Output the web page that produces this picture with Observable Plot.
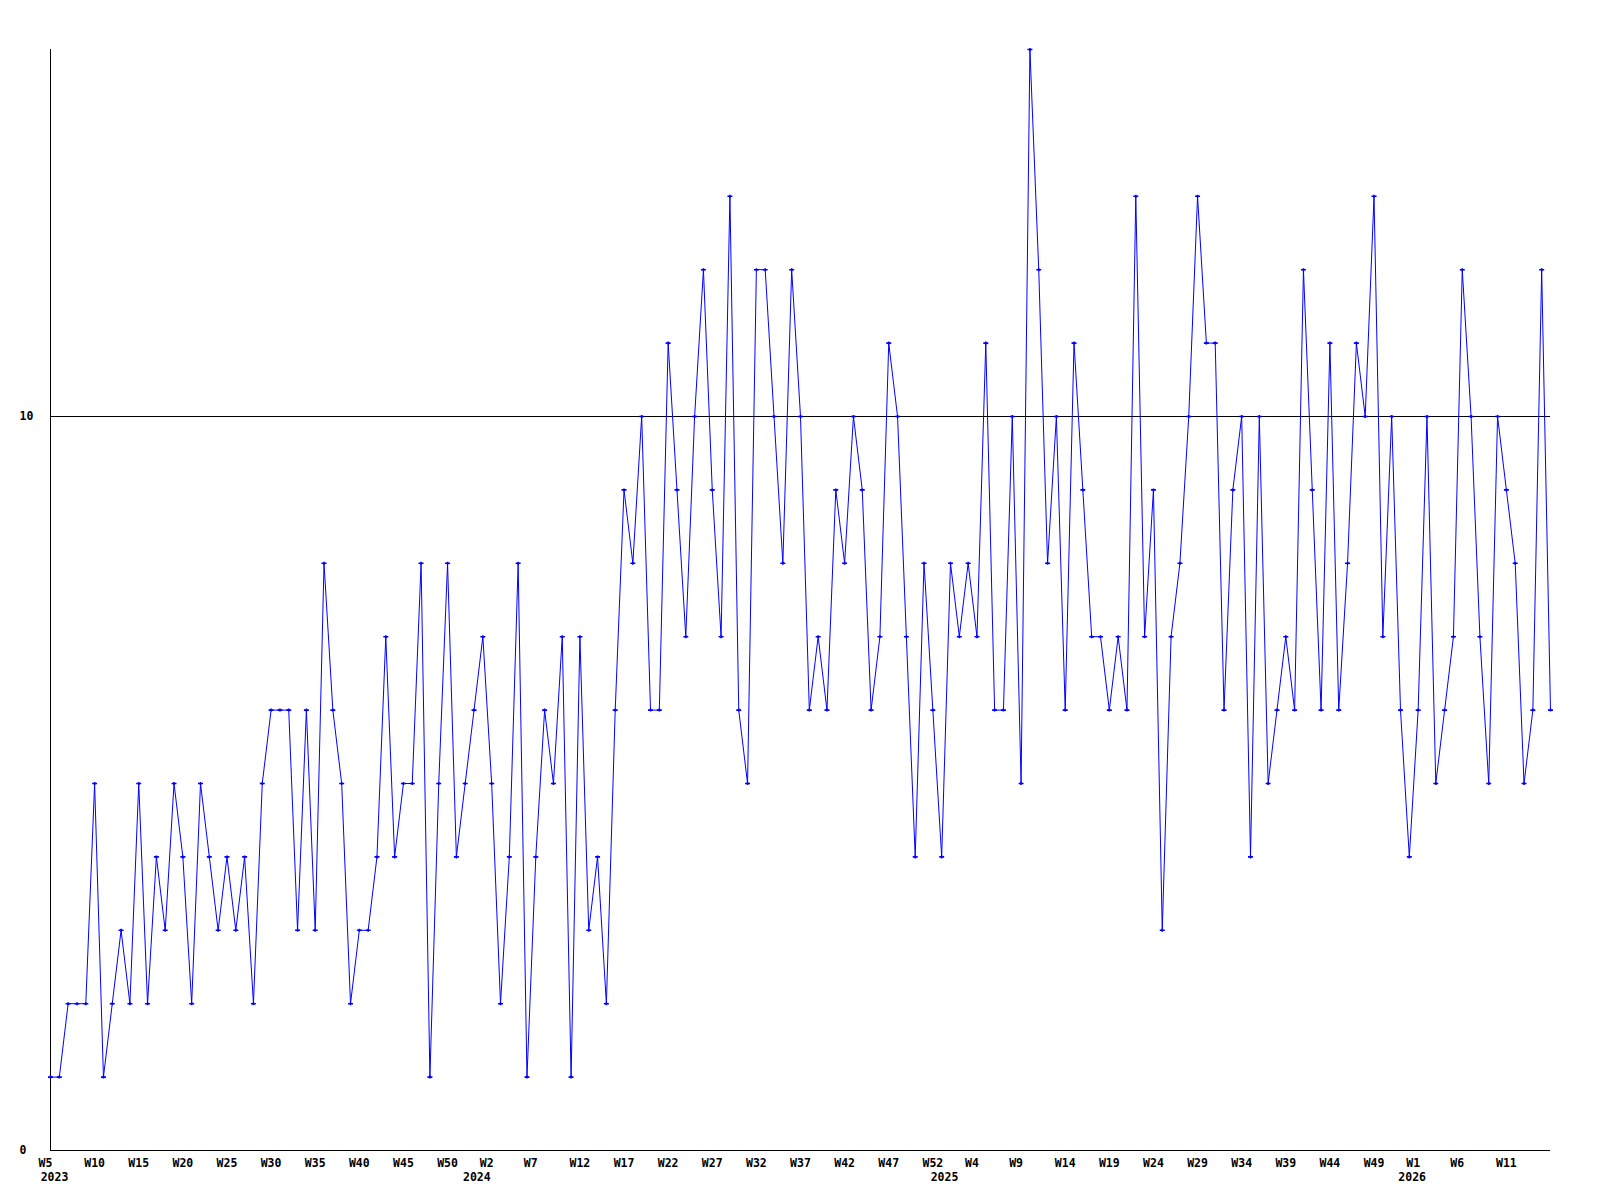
<!DOCTYPE html>
<html>
<head>
<meta charset="utf-8">
<script src="https://cdn.jsdelivr.net/npm/d3@7"></script>
<script src="https://cdn.jsdelivr.net/npm/@observablehq/plot@0.6"></script>
<style>
  html, body { margin: 0; padding: 0; background: #fff; }
  #chart svg { display: block; }
</style>
</head>
<body>
<div id="chart"></div>
<script>
// Weekly values, 2023 W5 .. 2026 W16 (one value per week, in order)
const values = [
  1,1,2,2,2,5,1,2,3,2,
  5,2,4,3,5,4,2,5,4,3,
  4,3,4,2,5,6,6,6,3,6,
  3,8,6,5,2,3,3,4,7,4,
  5,5,8,1,5,8,4,5,6,7,
  5,2,4,8,1,4,6,5,7,1,
  7,3,4,2,6,9,8,10,6,6,
  11,9,7,10,12,9,7,13,6,5,
  12,12,10,8,12,10,6,7,6,9,
  8,10,9,6,7,11,10,7,4,8,
  6,4,8,7,8,7,11,6,6,10,
  5,15,12,8,10,6,11,9,7,7,
  6,7,6,13,7,9,3,7,8,10,
  13,11,11,6,9,10,4,10,5,6,
  7,6,12,9,6,11,6,8,11,10,
  13,7,10,6,4,6,10,5,6,7,
  12,10,7,5,10,9,8,5,6,12,
  6
];

// X tick labels (every 5th week)
const weekTickIndex = [0,5,10,15,20,25,30,35,40,45,50,55,60,65,70,75,80,85,90,95,100,105,110,115,120,125,130,135,140,145,150,155,160,165];
const weekTickLabels = ["W5","W10","W15","W20","W25","W30","W35","W40","W45","W50","W2","W7","W12","W17","W22","W27","W32","W37","W42","W47","W52","W4","W9","W14","W19","W24","W29","W34","W39","W44","W49","W1","W6","W11"];

// Year labels and the week index where each year starts
const yearLabels = ["2023","2024","2025","2026"];
const yearIndex = [0, 49, 102, 155];

// Y tick values and reference line
const yTicks = [0, 10];
const refLine = 10;

const data = values.map((v, i) => ({i, v}));
const weekTicks = weekTickIndex.map((i, k) => ({i, label: weekTickLabels[k]}));
const years = yearLabels.map((label, k) => ({i: yearIndex[k], label, first: k === 0}));

// small "+" marker, wider than tall
const crossSymbol = {
  draw(context) {
    context.moveTo(-2.5, 0); context.lineTo(2.5, 0);
    context.moveTo(0, -1.5); context.lineTo(0, 1.5);
  }
};

const font = "'DejaVu Sans Mono', monospace";
const textStyle = {fontFamily: font, fontWeight: "bold", fontSize: 11.5, fill: "#000"};

const chart = Plot.plot({
  width: 1600,
  height: 1200,
  marginLeft: 50,
  marginRight: 50,
  marginTop: 49,
  marginBottom: 50,
  style: {background: "#fff", overflow: "visible"},
  x: {type: "linear", domain: [0, values.length - 1], axis: null},
  y: {type: "linear", domain: [0, 15], axis: null},
  marks: [
    Plot.ruleY([refLine], {stroke: "#000", strokeWidth: 1}),
    Plot.ruleY([0], {stroke: "#000", strokeWidth: 1}),
    Plot.ruleX([0], {stroke: "#000", strokeWidth: 1}),
    Plot.line(data, {x: "i", y: "v", stroke: "#0000ff", strokeWidth: 1}),
    Plot.dot(data, {x: "i", y: "v", symbol: crossSymbol, r: 2.5, stroke: "#0000ff", strokeWidth: 1.6}),
    // y tick labels
    Plot.text(yTicks, {y: d => d, frameAnchor: "left", dx: -31, textAnchor: "start", text: d => String(d), ...textStyle}),
    // x week labels (3-char centered, 2-char nudged left)
    Plot.text(weekTicks.filter(d => d.label.length > 2), {x: "i", y: () => 0, dy: 12.5, text: "label", textAnchor: "middle", ...textStyle}),
    Plot.text(weekTicks.filter(d => d.label.length <= 2), {x: "i", y: () => 0, dy: 12.5, dx: -5, text: "label", textAnchor: "middle", ...textStyle}),
    // year labels
    Plot.text(years.filter(d => d.first), {x: "i", y: () => 0, dy: 27, dx: 4, text: "label", textAnchor: "middle", ...textStyle}),
    Plot.text(years.filter(d => !d.first), {x: "i", y: () => 0, dy: 27, dx: -6, text: "label", textAnchor: "middle", ...textStyle})
  ]
});

document.getElementById("chart").appendChild(chart);
</script>
</body>
</html>
